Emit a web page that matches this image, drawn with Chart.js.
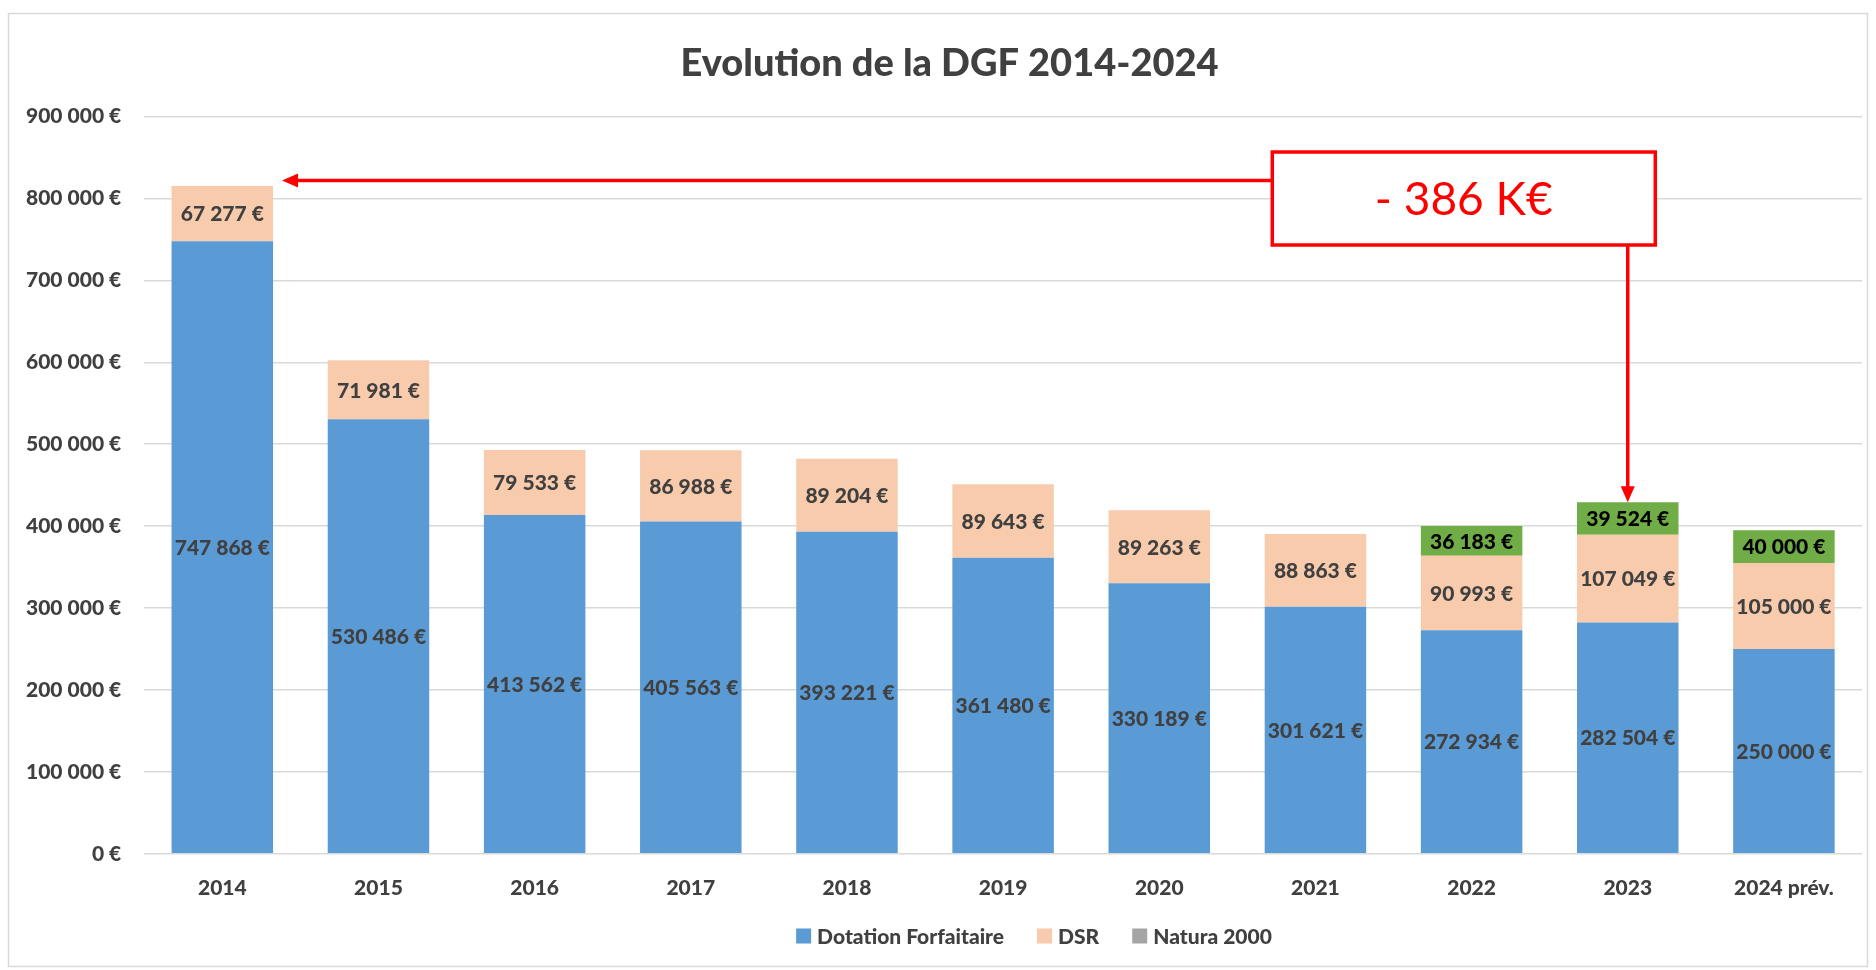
<!DOCTYPE html>
<html>
<head>
<meta charset="utf-8">
<script src="https://cdn.jsdelivr.net/npm/chart.js@4.4.0/dist/chart.umd.min.js"></script>
<style>
  html, body { margin: 0; padding: 0; background: #fff; }
  #wrap { width: 1876px; height: 970px; position: relative; }
</style>
</head>
<body>
<div id="wrap"><canvas id="dgf"></canvas></div>
<script>
// Data
const years = ['2014', '2015', '2016', '2017', '2018', '2019', '2020', '2021', '2022', '2023', '2024 prév.'];
const dotationForfaitaire = [747868, 530486, 413562, 405563, 393221, 361480, 330189, 301621, 272934, 282504, 250000];
const dsr = [67277, 71981, 79533, 86988, 89204, 89643, 89263, 88863, 90993, 107049, 105000];
const natura2000 = [null, null, null, null, null, null, null, null, 36183, 39524, 40000];
const yTicks = [0, 100000, 200000, 300000, 400000, 500000, 600000, 700000, 800000, 900000];
const decreaseLabel = '- 386 K€';

const FONT = 'Lato, "Open Sans", sans-serif';
const colors = {
  blue: '#5B9BD5',
  peach: '#F8CBAD',
  green: '#70AD47',
  gray: '#A5A5A5',
  text: '#404040',
  grid: '#d9d9d9',
  red: '#FF0000'
};
// legend swatch colours (Natura 2000 shows grey in the legend, bars are green)
const legendColors = [colors.blue, colors.peach, colors.gray];

// "747 868 €"
function euro(v) {
  return String(v).replace(/\B(?=(\d{3})+(?!\d))/g, ' ') + ' €';
}

// White background + thin frame, and nudge the title like Excel did
const framePlugin = {
  id: 'frame',
  afterLayout(chart) {
    chart.titleBlock.left += 17;
    chart.titleBlock.right += 17;
  },
  beforeDraw(chart) {
    const ctx = chart.ctx;
    ctx.save();
    ctx.fillStyle = '#fff';
    ctx.fillRect(0, 0, chart.width, chart.height);
    ctx.strokeStyle = colors.grid;
    ctx.lineWidth = 1.5;
    ctx.strokeRect(8.5, 13.5, chart.width - 17, chart.height - 17);
    ctx.restore();
  }
};

// Value labels centred in each stacked segment
const segmentLabels = {
  id: 'segmentLabels',
  afterDatasetsDraw(chart) {
    const ctx = chart.ctx;
    ctx.save();
    ctx.font = '900 21px ' + FONT;
    ctx.textAlign = 'center';
    ctx.textBaseline = 'middle';
    chart.data.datasets.forEach((ds, i) => {
      const meta = chart.getDatasetMeta(i);
      meta.data.forEach((bar, j) => {
        const v = ds.data[j];
        if (v == null) return;
        ctx.fillStyle = i === 2 ? '#000' : colors.text;
        ctx.fillText(euro(v), bar.x, (bar.y + bar.base) / 2 + 1);
      });
    });
    ctx.restore();
  }
};

// Legend drawn by hand so it can sit where Excel put it
const bottomLegend = {
  id: 'bottomLegend',
  afterDraw(chart) {
    const ctx = chart.ctx;
    const box = 15, gap = 6, spacing = 33;
    const centerX = 1034, centerY = 936;
    ctx.save();
    ctx.font = '900 21px ' + FONT;
    ctx.textBaseline = 'middle';
    const widths = chart.data.datasets.map(ds => box + gap + ctx.measureText(ds.label).width);
    const total = widths.reduce((a, b) => a + b, 0) + spacing * (widths.length - 1);
    let x = centerX - total / 2;
    chart.data.datasets.forEach((ds, i) => {
      ctx.fillStyle = legendColors[i];
      ctx.fillRect(x, centerY - box / 2, box, box);
      ctx.fillStyle = colors.text;
      ctx.fillText(ds.label, x + box + gap, centerY + 1);
      x += widths[i] + spacing;
    });
    ctx.restore();
  }
};

// Red callout box with arrows to the 2014 and 2023 bars
const callout = {
  id: 'callout',
  afterDraw(chart) {
    const ctx = chart.ctx;
    const x = chart.scales.x;
    const y = chart.scales.y;
    const bar2014 = chart.getDatasetMeta(1).data[0];
    const i2023 = years.indexOf('2023');
    const top2023 = dotationForfaitaire[i2023] + dsr[i2023] + natura2000[i2023];

    const boxW = 383, boxH = 93;
    const cx = x.getPixelForValue(7.95);
    const cy = y.getPixelForValue(800000);
    const bx = cx - boxW / 2, by = cy - boxH / 2;

    ctx.save();
    ctx.strokeStyle = colors.red;
    ctx.lineWidth = 3.5;
    ctx.fillStyle = '#fff';
    ctx.fillRect(bx, by, boxW, boxH);
    ctx.strokeRect(bx, by, boxW, boxH);

    ctx.fillStyle = colors.red;
    ctx.font = '46px ' + FONT;
    ctx.textAlign = 'center';
    ctx.textBaseline = 'middle';
    ctx.fillText(decreaseLabel, cx, cy + 2);

    // horizontal arrow to 2014
    const ay = y.getPixelForValue(822000);
    const tipX = bar2014.x + bar2014.width / 2 + 9;
    ctx.beginPath();
    ctx.moveTo(bx, ay);
    ctx.lineTo(tipX + 14, ay);
    ctx.stroke();
    ctx.beginPath();
    ctx.moveTo(tipX, ay);
    ctx.lineTo(tipX + 16, ay - 7);
    ctx.lineTo(tipX + 16, ay + 7);
    ctx.closePath();
    ctx.fill();

    // vertical arrow to 2023
    const vx = x.getPixelForValue(i2023);
    const tipY = y.getPixelForValue(top2023);
    ctx.beginPath();
    ctx.moveTo(vx, by + boxH);
    ctx.lineTo(vx, tipY - 14);
    ctx.stroke();
    ctx.beginPath();
    ctx.moveTo(vx, tipY);
    ctx.lineTo(vx - 7, tipY - 16);
    ctx.lineTo(vx + 7, tipY - 16);
    ctx.closePath();
    ctx.fill();
    ctx.restore();
  }
};

const ctx = document.getElementById('dgf');
new Chart(ctx, {
  type: 'bar',
  data: {
    labels: years,
    datasets: [
      { label: 'Dotation Forfaitaire', data: dotationForfaitaire, backgroundColor: colors.blue },
      { label: 'DSR', data: dsr, backgroundColor: colors.peach },
      { label: 'Natura 2000', data: natura2000, backgroundColor: colors.green }
    ]
  },
  options: {
    responsive: true,
    maintainAspectRatio: false,
    animation: false,
    datasets: {
      bar: { barPercentage: 0.65, categoryPercentage: 1.0 }
    },
    layout: {
      padding: { left: 3, right: 14, top: 14, bottom: 55 }
    },
    plugins: {
      title: {
        display: true,
        text: 'Evolution de la DGF 2014-2024',
        color: colors.text,
        font: { family: FONT, size: 38, weight: '900' },
        padding: { top: 27, bottom: 30 }
      },
      legend: { display: false },
      tooltip: { enabled: false }
    },
    scales: {
      x: {
        stacked: true,
        grid: { display: false },
        border: { display: false },
        ticks: {
          color: colors.text,
          font: { family: FONT, size: 21, weight: '900' },
          padding: 14
        }
      },
      y: {
        stacked: true,
        min: 0,
        max: 900000,
        afterBuildTicks(axis) {
          axis.ticks = yTicks.map(v => ({ value: v }));
        },
        grid: { color: colors.grid, lineWidth: 1.5, drawTicks: false },
        border: { display: false },
        ticks: {
          color: colors.text,
          font: { family: FONT, size: 21, weight: '900' },
          padding: 23,
          callback: v => euro(v)
        }
      }
    }
  },
  plugins: [framePlugin, segmentLabels, bottomLegend, callout]
});
</script>
</body>
</html>
